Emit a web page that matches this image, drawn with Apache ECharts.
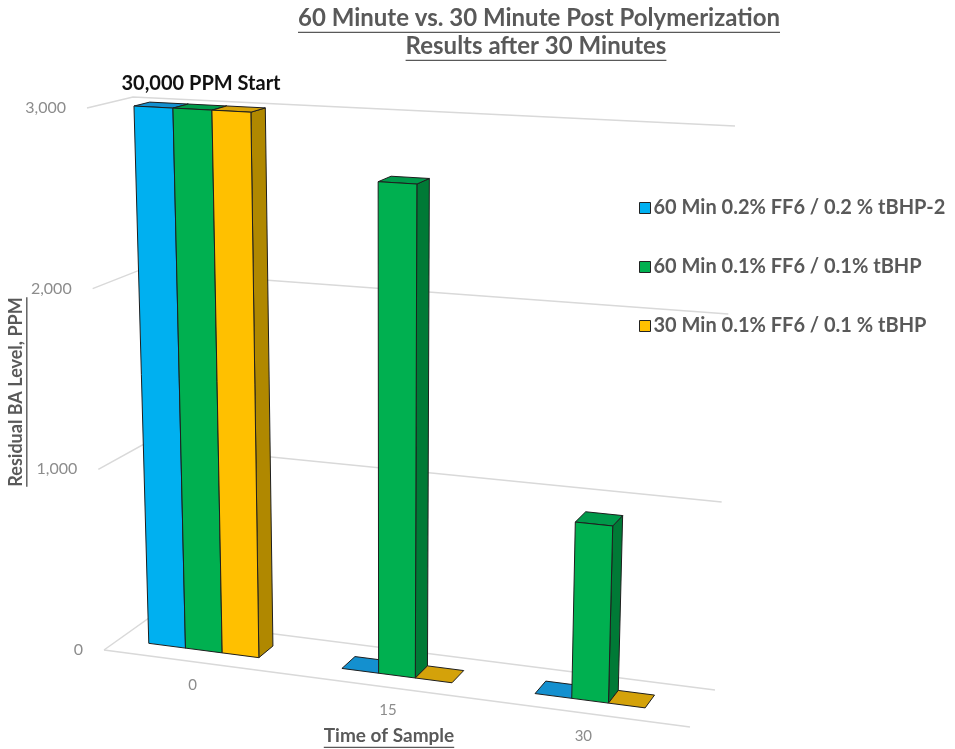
<!DOCTYPE html>
<html>
<head>
<meta charset="utf-8">
<title>60 Minute vs. 30 Minute Post Polymerization</title>
<script src="https://cdn.jsdelivr.net/npm/echarts@6/dist/echarts.min.js"></script>
<style>
  html, body { margin: 0; padding: 0; background: #fff; }
  #main { width: 955px; height: 749px; }
</style>
</head>
<body>
<div id="main"></div>
<script>
// data
var categories = ['0', '15', '30'];
var seriesNames = [
  '60 Min 0.2% FF6 / 0.2 % tBHP-2',
  '60 Min 0.1% FF6 / 0.1% tBHP',
  '30 Min 0.1% FF6 / 0.1 % tBHP'
];
var blueValues = [3000, 0, 0];
var greenValues = [3000, 2660, 930];
var yellowValues = [3000, 0, 0];
var yTicks = [0, 1000, 2000, 3000];

var FONT = 'Lato, "Open Sans", sans-serif';

// face colours: front / top / side
var palette = [
  { front: '#00B0F0', top: '#1490CF', side: '#0079B0' },
  { front: '#00B050', top: '#00994A', side: '#007A36' },
  { front: '#FFC000', top: '#D4A20A', side: '#B08800' }
];
var edgeColor = '#1e1e1e';
var gridColor = '#d9d9d9';

// screen corners of the 3d box (front plane z=0, back wall z=1)
var box = {
  front: { bl: [104, 650], br: [690, 727], tl: [87, 108], tr: [709, 142] },
  back:  { bl: [149, 618], br: [715, 690], tl: [133, 97], tr: [735, 126] }
};
var zFront = 0.33, zBack = 0.68;
var barShare = 0.19;
var barShift = -0.02; // bars sit a little left of the band centre

function lerp(a, b, t) {
  return [a[0] + (b[0] - a[0]) * t, a[1] + (b[1] - a[1]) * t];
}
function facePoint(f, u, v) {
  return lerp(lerp(f.bl, f.br, u), lerp(f.tl, f.tr, u), v);
}
// u: 0..1 along categories, v: 0..1 along value axis, z: 0 front .. 1 back
function project(u, v, z) {
  return lerp(facePoint(box.front, u, v), facePoint(box.back, u, v), z);
}
function toUV(cs, p) {
  return [(p[0] - cs.x) / cs.width, (cs.y + cs.height - p[1]) / cs.height];
}
function poly(points, fill) {
  return {
    type: 'polygon',
    shape: { points: points },
    style: { fill: fill, stroke: edgeColor, lineWidth: 1, lineJoin: 'round' }
  };
}

function barRenderer(idx) {
  return function (params, api) {
    var cs = params.coordSys;
    var cat = api.value(0);
    var top = api.coord([cat, api.value(1)]);
    var base = api.coord([cat, 0]);
    var w = api.size([1, 0])[0] * barShare;
    var left = top[0] + (idx - 1) * w - w / 2;
    var u0 = toUV(cs, [left, 0])[0] + barShift;
    var u1 = toUV(cs, [left + w, 0])[0] + barShift;
    var vt = toUV(cs, top)[1];
    var vb = toUV(cs, base)[1];
    var c = palette[idx];
    var P = function (list) {
      return list.map(function (q) { return project(q[0], q[1], q[2]); });
    };
    var children = [];
    if (vt > vb) {
      children.push(poly(P([[u1, vb, zFront], [u1, vb, zBack], [u1, vt, zBack], [u1, vt, zFront]]), c.side));
    }
    children.push(poly(P([[u0, vt, zFront], [u1, vt, zFront], [u1, vt, zBack], [u0, vt, zBack]]), c.top));
    if (vt > vb) {
      children.push(poly(P([[u0, vb, zFront], [u1, vb, zFront], [u1, vt, zFront], [u0, vt, zFront]]), c.front));
    }
    return { type: 'group', children: children };
  };
}

function gridRenderer(params, api) {
  var cs = params.coordSys;
  var t = api.value(1);
  var v = toUV(cs, api.coord([0, t]))[1];
  var fl = project(0, v, 0), bl = project(0, v, 1), br = project(1, v, 1);
  var children = [{
    type: 'polyline',
    shape: { points: [fl, bl, br] },
    style: { stroke: gridColor, lineWidth: 1.5, fill: null }
  }, {
    type: 'text',
    x: fl[0] - 21, y: fl[1],
    style: {
      text: echarts.format.addCommas(t), fill: '#8c8c8c',
      font: '16px ' + FONT, align: 'right', verticalAlign: 'middle'
    }
  }];
  if (t === 0) {
    children.push({
      type: 'line',
      shape: { x1: fl[0], y1: fl[1], x2: project(1, 0, 0)[0], y2: project(1, 0, 0)[1] },
      style: { stroke: gridColor, lineWidth: 1.5 }
    });
  }
  return { type: 'group', children: children };
}

function catLabelRenderer(params, api) {
  var cs = params.coordSys;
  var i = api.value(0);
  var u = toUV(cs, api.coord([i, 0]))[0];
  var p = project(u, 0, 0);
  return {
    type: 'text',
    x: p[0] - 9, y: p[1] + 22,
    style: {
      text: categories[i], fill: '#8c8c8c', font: '15px ' + FONT,
      align: 'center', verticalAlign: 'middle'
    }
  };
}

// underline helper
var measureCtx = document.createElement('canvas').getContext('2d');
function textWidth(str, font) {
  measureCtx.font = font;
  return measureCtx.measureText(str).width;
}
function underlinedText(str, x, y, font, color, extra) {
  var w = textWidth(str, font);
  var size = parseInt(font.match(/(\d+)px/)[1], 10);
  var g = {
    type: 'group', x: x, y: y,
    children: [{
      type: 'text', x: 0, y: 0,
      style: { text: str, font: font, fill: color, align: 'center', verticalAlign: 'middle' }
    }, {
      type: 'line',
      shape: { x1: -w / 2, y1: size * 0.6, x2: w / 2, y2: size * 0.6 },
      style: { stroke: color, lineWidth: 1.4 }
    }]
  };
  if (extra) { for (var k in extra) g[k] = extra[k]; }
  return g;
}

var chart = echarts.init(document.getElementById('main'), null, { renderer: 'canvas' });

var titleFont = 'bold 24px ' + FONT;
var option = {
  animation: false,
  backgroundColor: '#ffffff',
  grid: { left: 100, top: 100, width: 600, height: 540 },
  xAxis: { type: 'category', data: categories, show: false },
  yAxis: { type: 'value', min: 0, max: 3000, interval: 1000, show: false },
  legend: {
    orient: 'vertical',
    left: 634, top: 193,
    itemGap: 39,
    itemWidth: 11, itemHeight: 11,
    icon: 'rect',
    selectedMode: false,
    data: seriesNames,
    itemStyle: { borderColor: '#222', borderWidth: 1 },
    textStyle: { fontFamily: FONT, fontWeight: 'bold', fontSize: 20, color: '#595959', padding: [0, 0, 0, -2] }
  },
  graphic: [
    underlinedText('60 Minute vs. 30 Minute Post Polymerization', 539, 18, titleFont, '#595959'),
    underlinedText('Results after 30 Minutes', 536, 46, titleFont, '#595959'),
    underlinedText('Time of Sample', 389, 736, 'bold 19px ' + FONT, '#595959'),
    underlinedText('Residual BA Level, PPM', 16, 392, 'bold 18px ' + FONT, '#595959', { rotation: Math.PI / 2 }),
    {
      type: 'text', x: 201, y: 84,
      style: { text: '30,000 PPM Start', font: 'bold 20px ' + FONT, fill: '#111', align: 'center', verticalAlign: 'middle' }
    }
  ],
  series: [
    {
      name: 'grid', type: 'custom', silent: true,
      data: yTicks.map(function (t) { return [0, t]; }),
      renderItem: gridRenderer
    },
    {
      name: 'labels', type: 'custom', silent: true,
      data: categories.map(function (c, i) { return [i, 0]; }),
      renderItem: catLabelRenderer
    },
    {
      name: seriesNames[0], type: 'custom', silent: true,
      itemStyle: { color: palette[0].front },
      data: blueValues.map(function (v, i) { return [i, v]; }),
      renderItem: barRenderer(0)
    },
    {
      name: seriesNames[1], type: 'custom', silent: true,
      itemStyle: { color: palette[1].front },
      data: greenValues.map(function (v, i) { return [i, v]; }),
      renderItem: barRenderer(1)
    },
    {
      name: seriesNames[2], type: 'custom', silent: true,
      itemStyle: { color: palette[2].front },
      data: yellowValues.map(function (v, i) { return [i, v]; }),
      renderItem: barRenderer(2)
    }
  ]
};

chart.setOption(option);
window.addEventListener('resize', chart.resize);
</script>
</body>
</html>
